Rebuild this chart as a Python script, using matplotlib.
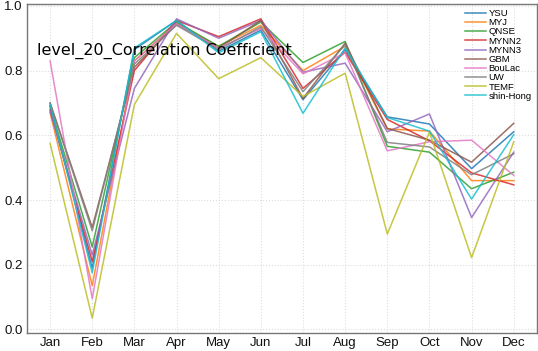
import matplotlib
matplotlib.use('Agg')
import matplotlib.pyplot as plt

months = ['Jan', 'Feb', 'Mar', 'Apr', 'May', 'Jun', 'Jul', 'Aug', 'Sep', 'Oct', 'Nov', 'Dec']

ysu = [0.69, 0.19, 0.865, 0.955, 0.86, 0.925, 0.71, 0.865, 0.657, 0.635, 0.497, 0.611]
myj = [0.67, 0.135, 0.83, 0.945, 0.875, 0.94, 0.80, 0.875, 0.62, 0.613, 0.46, 0.46]
qnse = [0.69, 0.255, 0.84, 0.95, 0.875, 0.95, 0.825, 0.89, 0.566, 0.548, 0.435, 0.486]
mynn2 = [0.68, 0.21, 0.80, 0.955, 0.905, 0.96, 0.745, 0.857, 0.649, 0.583, 0.484, 0.447]
mynn3 = [0.675, 0.23, 0.745, 0.96, 0.90, 0.955, 0.795, 0.823, 0.611, 0.666, 0.346, 0.548]
gbm = [0.70, 0.315, 0.81, 0.945, 0.87, 0.955, 0.714, 0.885, 0.621, 0.585, 0.517, 0.637]
boulac = [0.83, 0.095, 0.83, 0.945, 0.87, 0.93, 0.79, 0.855, 0.552, 0.58, 0.585, 0.476]
uw = [0.70, 0.305, 0.82, 0.94, 0.865, 0.935, 0.735, 0.88, 0.578, 0.564, 0.478, 0.543]
temf = [0.575, 0.035, 0.695, 0.915, 0.775, 0.84, 0.72, 0.792, 0.295, 0.61, 0.222, 0.58]
shin_hong = [0.695, 0.175, 0.87, 0.955, 0.855, 0.92, 0.668, 0.87, 0.655, 0.613, 0.403, 0.602]

schemes = ['YSU', 'MYJ', 'QNSE', 'MYNN2', 'MYNN3', 'GBM', 'BouLac', 'UW', 'TEMF', 'shin-Hong']
series = [ysu, myj, qnse, mynn2, mynn3, gbm, boulac, uw, temf, shin_hong]

plt.rcParams['font.family'] = ['Liberation Sans', 'DejaVu Sans']

fig = plt.figure(figsize=(5.38, 3.51), dpi=100)
ax = fig.add_axes([0.05, 0.051, 0.948, 0.938])

x = list(range(len(months)))
for name, vals in zip(schemes, series):
    ax.plot(x, vals, label=name, linewidth=1.1, alpha=0.85)

ax.set_xticks(x)
ax.set_xticklabels(months)
ax.set_yticks([0.0, 0.2, 0.4, 0.6, 0.8, 1.0])
ax.tick_params(labelsize=9.5, length=0, pad=3, colors='#111111')
ax.grid(True, linestyle=':', color='#dddddd', linewidth=0.8)
for sp in ax.spines.values():
    sp.set_color('#777777')
    sp.set_linewidth(1.0)

# title sits inside the axes
ax.text(0.02, 0.857, 'level_20_Correlation Coefficient', transform=ax.transAxes,
        fontsize=11.5, family='DejaVu Sans', va='center', ha='left')

ax.legend(loc='upper right', fontsize=6.8, frameon=False, labelspacing=0.02,
          handlelength=2.2, borderaxespad=0.15, handletextpad=0.3)

fig.savefig('out.png', dpi=100)
